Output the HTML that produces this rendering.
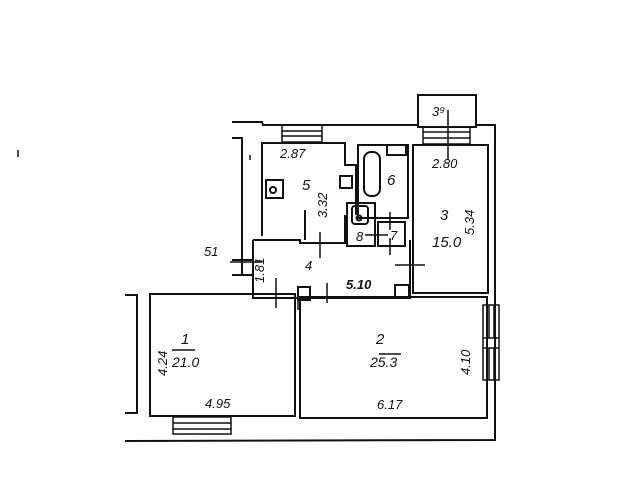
<!DOCTYPE html>
<html><head><style>body{margin:0;background:#fff}svg{display:block}text{font-family:"Liberation Sans",sans-serif;font-style:italic;fill:#111}</style></head><body>
<svg width="638" height="480" viewBox="0 0 638 480" xmlns="http://www.w3.org/2000/svg">
<g fill="none" stroke="#111" stroke-width="2">
<!-- outer walls -->
<polyline points="232,122 262,122 263,125 418,125"/>
<polyline points="476,125 495,125 495,440 125,441"/>
<polyline points="232,138 242,138 242,275"/>
<polyline points="125,295 137,295 137,413 125,413"/>
<polyline points="232,260 254,260"/><polyline points="232,275 254,275"/>
<!-- balcony -->
<rect x="418" y="95" width="58" height="32"/>
<!-- room 1 -->
<rect x="150" y="294" width="145" height="122"/>
<!-- room 2 -->
<rect x="300" y="297" width="187" height="121"/>
<!-- room 3 -->
<rect x="413" y="145" width="75" height="148"/>
<!-- kitchen 5 -->
<polyline points="262,236 262,143 345,143 345,165 356,165 356,215"/>
<polyline points="253,240 300,240 300,243 345,243 345,215"/>
<polyline points="305,210 305,240"/>
<!-- corridor -->
<polyline points="253,240 253,298 410,298 410,240"/>
<!-- bath 6 -->
<rect x="358" y="145" width="50" height="73"/>
<rect x="364" y="152" width="16" height="44" rx="7"/>
<rect x="387" y="145" width="19" height="10"/>
<!-- wc 8 -->
<rect x="347" y="203" width="28" height="43"/>
<rect x="352" y="206" width="16" height="18" rx="3"/>
<circle cx="359" cy="218" r="2.5"/>
<!-- 7 -->
<rect x="378" y="222" width="27" height="24"/>
<!-- stove -->
<rect x="266" y="180" width="17" height="18"/>
<circle cx="273" cy="190" r="3"/>
<rect x="340" y="176" width="12" height="12"/>
<!-- door squares -->
<rect x="298" y="287" width="12" height="13"/>
<rect x="395" y="285" width="14" height="12"/>
</g>
<g stroke="#111" stroke-width="1.5" fill="none">
<!-- windows -->
<rect x="282" y="125" width="40" height="17"/><line x1="282" y1="131" x2="322" y2="131"/><line x1="282" y1="136" x2="322" y2="136"/>
<rect x="423" y="127" width="47" height="17"/><line x1="423" y1="132" x2="470" y2="132"/><line x1="423" y1="138" x2="470" y2="138"/>
<rect x="173" y="417" width="58" height="17"/><line x1="173" y1="423" x2="231" y2="423"/><line x1="173" y1="429" x2="231" y2="429"/>
<rect x="483" y="305" width="16" height="75"/><line x1="483" y1="338" x2="499" y2="338"/><line x1="483" y1="348" x2="499" y2="348"/>
<line x1="489" y1="305" x2="489" y2="338"/><line x1="494" y1="305" x2="494" y2="338"/><line x1="489" y1="348" x2="489" y2="380"/><line x1="494" y1="348" x2="494" y2="380"/>
<!-- tick marks -->
<line x1="448" y1="110" x2="448" y2="160"/>
<line x1="230" y1="262" x2="262" y2="262"/>
<line x1="320" y1="232" x2="320" y2="258"/>
<line x1="390" y1="212" x2="390" y2="230"/><line x1="390" y1="238" x2="390" y2="255"/>
<line x1="365" y1="235" x2="388" y2="235"/>
<line x1="395" y1="265" x2="425" y2="265"/>
<line x1="276" y1="278" x2="276" y2="308"/>
<line x1="327" y1="283" x2="327" y2="303"/>
<line x1="298" y1="300" x2="298" y2="310"/>
<line x1="18" y1="150" x2="18" y2="157"/>
<line x1="250" y1="155" x2="250" y2="160"/>
<line x1="330" y1="400" x2="330" y2="400"/>
<line x1="379" y1="354" x2="401" y2="354"/>
<line x1="172" y1="350" x2="195" y2="350"/>
</g>
<g font-size="13">
<text x="280" y="158">2.87</text>
<text x="432" y="168">2.80</text>
<text x="432" y="116">3⁹</text>
<text x="302" y="190" font-size="15">5</text>
<text x="387" y="185" font-size="15">6</text>
<text x="356" y="241">8</text>
<text x="390" y="240">7</text>
<text x="440" y="220" font-size="15">3</text>
<text x="432" y="247" font-size="15">15.0</text>
<text x="305" y="270">4</text>
<text x="346" y="289" font-weight="bold">5.10</text>
<text x="204" y="256">51</text>
<text x="181" y="344" font-size="15">1</text>
<text x="172" y="367" font-size="14">21.0</text>
<text x="376" y="344" font-size="15">2</text>
<text x="370" y="367" font-size="14">25.3</text>
<text x="205" y="408">4.95</text>
<text x="377" y="409">6.17</text>
<text transform="translate(327,218) rotate(-90)">3.32</text>
<text transform="translate(474,235) rotate(-90)">5.34</text>
<text transform="translate(264,283) rotate(-90)">1.81</text>
<text transform="translate(167,376) rotate(-90)">4.24</text>
<text transform="translate(470,375) rotate(-90)">4.10</text>
</g>
</svg>
</body></html>
